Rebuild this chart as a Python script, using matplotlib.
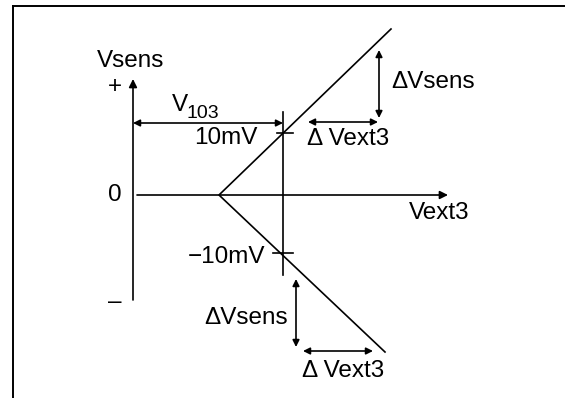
import matplotlib
matplotlib.use("Agg")
import matplotlib.pyplot as plt

# ==============================================================
# DATOS DEL DIAGRAMA (origen en el cruce de ejes, y hacia arriba)
# ==============================================================
EJE_X = [4, 315]            # eje Vext3
EJE_Y = [-105, 116]         # eje Vsens

VERTICE = (86, 0)
RAMA_SUP = (258, 166)
RAMA_INF = (252, -157)

X_REF = 150                 # línea vertical en V103
REF_Y = [83, -80]
MARCAS_Y = [62, -58]        # 10mV y -10mV
MARCA_X = [[144, 160], [140, 160]]

MARCO_X = -120
MARCO_Y = 189

# flechas de cota: (x0, y0, x1, y1)
COTAS = [
    (0, 72, 150, 72),        # V103
    (246, 145, 246, 77),     # dVsens superior
    (175, 73, 245, 73),      # dVext3 superior
    (163, -84, 163, -152),   # dVsens inferior
    (170, -156, 240, -156),  # dVext3 inferior
]

# textos: (x, y, texto, alineación, tamaño)
TEXTOS = [
    (-2, 134, "Vsens", "center", 17.5),
    (-18, 108, "+", "center", 17.5),
    (-18, 0, "0", "center", 17.5),
    (-18, -107, "\u2013", "center", 17.5),
    (39, 90, "V", "left", 17.5),
    (53, 82, "103", "left", 14),
    (125, 57, "10mV", "right", 17.5),
    (132, -62, "\u221210mV", "right", 17.5),
    (276, -18, "Vext3", "left", 17.5),
    (258, 113, "\u0394Vsens", "left", 17.5),
    (174, 56, "\u0394 Vext3", "left", 17.5),
    (155, -123, "\u0394Vsens", "right", 17.5),
    (169, -176, "\u0394 Vext3", "left", 17.5),
]

# ==============================================================
# DIBUJO
# ==============================================================
plt.rcParams['font.family'] = ['Liberation Sans', 'DejaVu Sans']

fig = plt.figure(figsize=(5.65, 3.98), dpi=100)
ax = fig.add_axes([0, 0, 1, 1])
ax.set_xlim(-133, 432)
ax.set_ylim(-203, 195)
ax.axis('off')

k = 'black'
lw = 1.2

# marco
ax.plot([MARCO_X, MARCO_X], [-203, MARCO_Y], color=k, lw=1.4)
ax.plot([MARCO_X, 432], [MARCO_Y, MARCO_Y], color=k, lw=1.4)

# ejes con flecha
ax.annotate("", xy=(0, EJE_Y[1]), xytext=(0, EJE_Y[0]),
            arrowprops=dict(arrowstyle='-|>', color=k, lw=lw,
                            mutation_scale=12, shrinkA=0, shrinkB=0))
ax.annotate("", xy=(EJE_X[1], 0), xytext=(EJE_X[0], 0),
            arrowprops=dict(arrowstyle='-|>', color=k, lw=lw,
                            mutation_scale=12, shrinkA=0, shrinkB=0))

# curva en V
ax.plot([RAMA_SUP[0], VERTICE[0], RAMA_INF[0]],
        [RAMA_SUP[1], VERTICE[1], RAMA_INF[1]], color=k, lw=lw)

# línea de referencia y marcas
ax.plot([X_REF, X_REF], REF_Y, color=k, lw=lw)
for yv, (xa, xb) in zip(MARCAS_Y, MARCA_X):
    ax.plot([xa, xb], [yv, yv], color=k, lw=lw)

# cotas
for x0, y0, x1, y1 in COTAS:
    ax.annotate("", xy=(x1, y1), xytext=(x0, y0),
                arrowprops=dict(arrowstyle='<|-|>', color=k, lw=lw,
                                mutation_scale=10, shrinkA=0, shrinkB=0))

for x, y, t, ha, fs in TEXTOS:
    ax.text(x, y, t, ha=ha, va='center', fontsize=fs, color=k)

plt.savefig("out.png", dpi=100)
